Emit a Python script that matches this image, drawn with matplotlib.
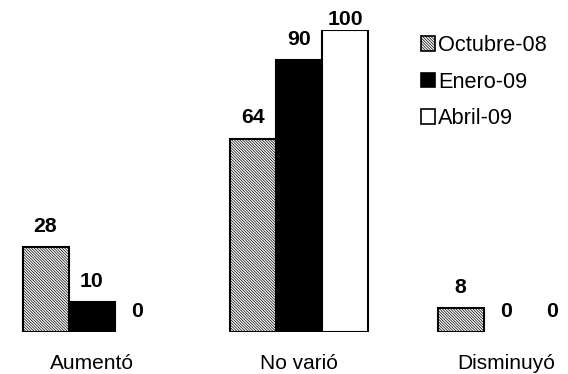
import matplotlib
matplotlib.use("Agg")
import matplotlib.pyplot as plt
import numpy as np

categories = ["Aumentó", "No varió", "Disminuyó"]
series_names = ["Octubre-08", "Enero-09", "Abril-09"]
octubre = [28, 64, 8]
enero = [10, 90, 0]
abril = [0, 100, 0]

plt.rcParams["font.family"] = ["Liberation Sans", "DejaVu Sans"]
plt.rcParams["hatch.linewidth"] = 0.5

W, H = 568, 374
fig = plt.figure(figsize=(W / 100, H / 100), dpi=100)
base_px, top_px = 42, 30
ax = fig.add_axes([0, base_px / H, 1, (H - base_px - top_px) / H])

unit = 207.5
x0 = 91.5
ax.set_xlim(-x0 / unit, (W - x0) / unit)
ymax = 100
ax.set_ylim(0, ymax)

x = np.arange(len(categories))
bw = 46 / unit
styles = [
    dict(facecolor="white", hatch="\\" * 12),
    dict(facecolor="black"),
    dict(facecolor="white"),
]
for i, (vals, name, st) in enumerate(zip([octubre, enero, abril], series_names, styles)):
    pos = x + (i - 1) * bw
    lw = [1.5 if v > 0 else 0 for v in vals]
    ax.bar(pos, vals, width=bw, edgecolor="black", linewidth=lw,
           label=name, **st)
    for p, v in zip(pos, vals):
        # labels at the top of the value range sit lower so they stay inside the figure
        off = 3.5 if v >= ymax else 11
        ax.annotate(str(v), (p, v), xytext=(0, off), textcoords="offset points",
                    ha="center", va="baseline", fontsize=15.3, fontweight="bold")

ax.set_xticks(x)
ax.set_xticklabels(categories, fontsize=15)
ax.tick_params(axis="x", length=0, pad=16)
ax.set_yticks([])
for s in ax.spines.values():
    s.set_visible(False)

leg = ax.legend(loc="upper left", bbox_to_anchor=(421 / W, 1 - 35 / H),
                bbox_transform=fig.transFigure, frameon=False, fontsize=15.7,
                handlelength=0.65, handleheight=0.65, handletextpad=0.12,
                labelspacing=0.72, borderpad=0, borderaxespad=0)
for h in leg.legend_handles:
    h.set_linewidth(1.2)

fig.savefig("out.png", dpi=100)
